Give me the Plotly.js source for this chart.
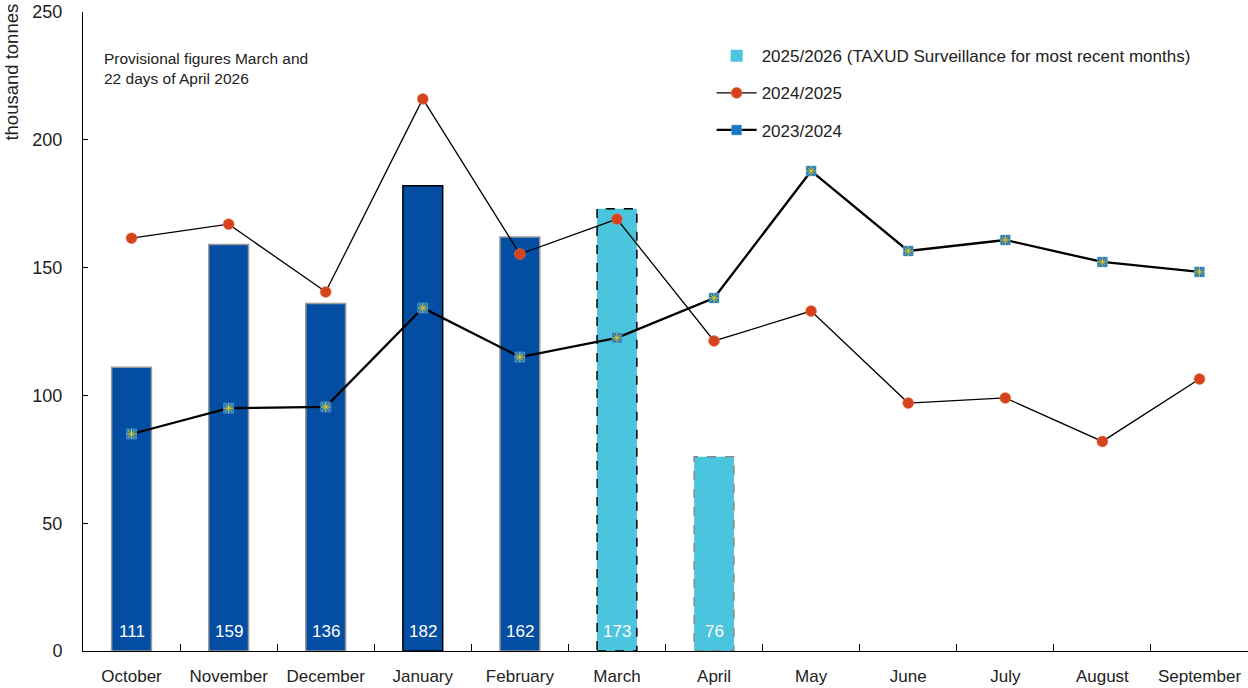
<!DOCTYPE html>
<html>
<head>
<meta charset="utf-8">
<script src="https://cdn.plot.ly/plotly-3.0.1.min.js"></script>
<style>html,body{margin:0;padding:0;background:#fff;}#chart{width:1248px;height:688px;}</style>
</head>
<body>
<div id="chart"></div>
<script>
// ---- data ----
const months = ["October","November","December","January","February","March","April","May","June","July","August","September"];
const season2526 = [111, 159, 136, 182, 162, 173, 76];
const provisional = [false, false, false, false, false, true, true];
const season2425 = [161.5, 167, 140.5, 216, 155.3, 169, 121.3, 133, 97, 99, 82, 106.4];
const season2324 = [84.9, 95, 95.5, 134.2, 115, 122.5, 138.1, 187.8, 156.5, 160.8, 152.2, 148.3];
const name2526 = "2025/2026 (TAXUD Surveillance for most recent months)";
const name2425 = "2024/2025";
const name2324 = "2023/2024";
const noteText = "Provisional figures March and<br>22 days of April 2026";
const yTitle = "thousand tonnes";

// ---- styles ----
const FONT = "Liberation Sans, Arial, sans-serif";
const DARK = "#034ea2";
const CYAN = "#4bc4de";
const RED = "#d5431e";
const SQ = "#1677c4";
const BAR_W = 0.41;

const finalIdx = [], provIdx = [];
season2526.forEach((v, i) => (provisional[i] ? provIdx : finalIdx).push(i));
const maxVal = Math.max(...season2526);

const finalBars = {
  type: "bar",
  x: finalIdx.map(i => months[i]),
  y: finalIdx.map(i => season2526[i]),
  width: BAR_W,
  marker: {
    color: DARK,
    line: { color: finalIdx.map(i => (season2526[i] === maxVal ? "#000" : "#999")), width: 1.5 }
  },
  name: name2526,
  legendgroup: "a",
  showlegend: false,
  hoverinfo: "x+y"
};
const provBars = {
  type: "bar",
  x: provIdx.map(i => months[i]),
  y: provIdx.map(i => season2526[i]),
  width: BAR_W,
  marker: { color: CYAN, line: { color: "#888", width: 0 } },
  name: name2526,
  legendgroup: "a",
  hoverinfo: "x+y"
};
const line2425 = {
  type: "scatter", mode: "lines+markers",
  x: months, y: season2425, name: name2425, legendgroup: "b",
  line: { color: "#000", width: 1.3 },
  marker: { symbol: "circle", size: 11, color: RED, line: { color: "#e8814f", width: 0.5 } }
};
const line2324 = {
  type: "scatter", mode: "lines+markers",
  x: months, y: season2324, name: name2324, legendgroup: "c",
  line: { color: "#000", width: 2.3 },
  marker: { symbol: "square", size: 10, color: SQ, line: { color: "#7fb2d8", width: 0.5 } }
};
const star2324 = {
  type: "scatter", mode: "markers",
  x: months, y: season2324, showlegend: false, hoverinfo: "skip",
  marker: { symbol: "asterisk", size: 8, color: "#e8c51c", line: { color: "#e8c51c", width: 1 } }
};

// dashed outlines for provisional bars, derived from the data
const shapes = provIdx.map((i, k) => ({
  type: "rect", xref: "x", yref: "y", layer: "above",
  x0: i - BAR_W / 2, x1: i + BAR_W / 2, y0: 0, y1: season2526[i],
  line: { color: k === 0 ? "#000" : "#888", width: 1.5, dash: "dash" },
  fillcolor: "rgba(0,0,0,0)"
}));

// value labels at bottom of bars
const annotations = season2526.map((v, i) => ({
  x: months[i], y: 0, xref: "x", yref: "y",
  text: String(v), showarrow: false, yanchor: "bottom", yshift: 8,
  font: { family: FONT, size: 17, color: "#fff" }
}));
annotations.push({
  xref: "paper", yref: "paper", x: 0.016, y: 0.944, xanchor: "left", yanchor: "top",
  text: noteText, showarrow: false, align: "left",
  font: { family: FONT, size: 15.5, color: "#222" }
});
annotations.push({
  xref: "paper", yref: "paper", x: -0.061, y: 1.017, xanchor: "center", yanchor: "top",
  text: yTitle, showarrow: false, textangle: -90,
  font: { family: FONT, size: 18.5, color: "#222" }
});

const layout = {
  width: 1248, height: 688,
  margin: { l: 83, r: 0, t: 12, b: 37 },
  paper_bgcolor: "#fff", plot_bgcolor: "#fff",
  font: { family: FONT, size: 17, color: "#222" },
  barmode: "overlay",
  showlegend: true,
  legend: {
    x: 0.5396, y: 0.959, xanchor: "left", yanchor: "top",
    bgcolor: "rgba(0,0,0,0)", font: { family: FONT, size: 17, color: "#222" },
    traceorder: "grouped", tracegroupgap: 12, itemwidth: 40
  },
  xaxis: {
    type: "category", categoryorder: "array", categoryarray: months,
    range: [-0.5, 11.5],
    showline: true, linecolor: "#000", linewidth: 1,
    ticks: "inside", ticklen: 7, tickcolor: "#000", tickson: "boundaries",
    showgrid: false, zeroline: false, ticklabelstandoff: 10,
    tickfont: { family: FONT, size: 17, color: "#222" }
  },
  yaxis: {
    range: [0, 250], dtick: 50, tick0: 0,
    showline: true, linecolor: "#000", linewidth: 1,
    ticks: "inside", ticklen: 5, tickcolor: "#000",
    showgrid: false, zeroline: false, ticklabelstandoff: 16,
    tickfont: { family: FONT, size: 18, color: "#222" }
  },
  shapes: shapes,
  annotations: annotations
};

Plotly.newPlot("chart", [finalBars, provBars, line2425, line2324, star2324], layout, { displayModeBar: false, staticPlot: true });
</script>
</body>
</html>
